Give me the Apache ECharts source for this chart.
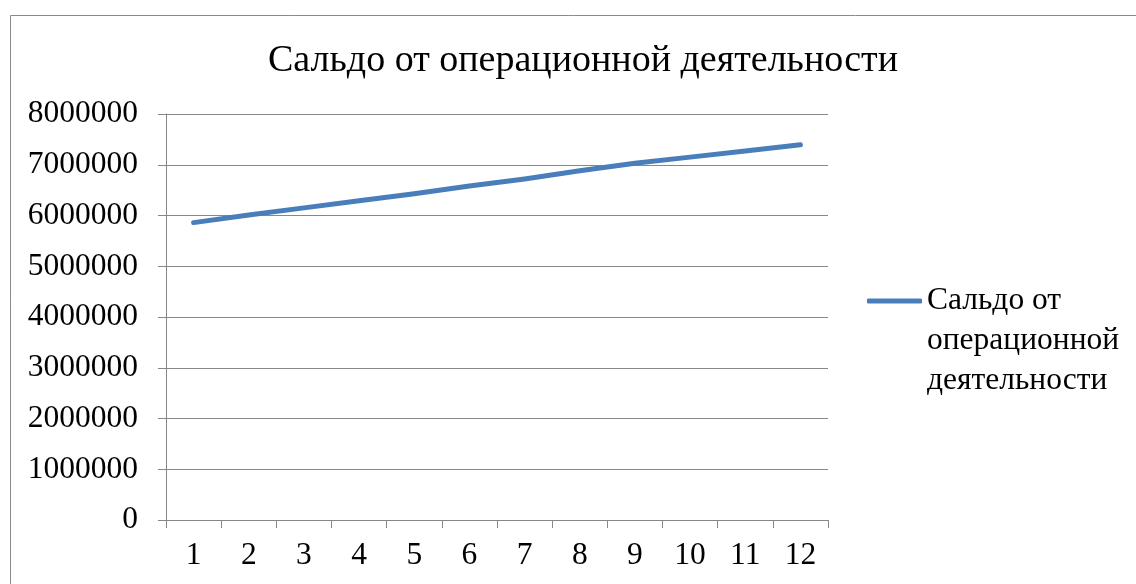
<!DOCTYPE html>
<html>
<head>
<meta charset="utf-8">
<script src="https://cdn.jsdelivr.net/npm/echarts@6/dist/echarts.min.js"></script>
<style>
html,body{margin:0;padding:0;background:#fff;}
#c{width:1136px;height:584px;}
</style>
</head>
<body>
<div id="c"></div>
<script>
var titleText = 'Сальдо от операционной деятельности';
var seriesName = 'Сальдо от операционной деятельности';
var legendLines = ['Сальдо от', 'операционной', 'деятельности'];
var categories = ['1','2','3','4','5','6','7','8','9','10','11','12'];
var values = [5860000, 6010000, 6150000, 6290000, 6430000, 6580000, 6720000, 6880000, 7030000, 7150000, 7270000, 7395000];
var yMin = 0, yMax = 8000000, yStep = 1000000;

var font = '"Liberation Serif", "Times New Roman", serif';
var gridColor = '#878787';
var labelSize = 31.5;
var chart = echarts.init(document.getElementById('c'));
chart.setOption({
  animation: false,
  backgroundColor: '#fff',
  graphic: [{
    type: 'rect',
    shape: {x: 10.5, y: 15.5, width: 1300, height: 800},
    style: {fill: 'none', stroke: '#8a8a8a', lineWidth: 1},
    silent: true,
    z: -1
  }],
  title: {
    text: titleText,
    left: 578,
    textAlign: 'center',
    top: 37,
    textStyle: {fontFamily: font, fontSize: 38, fontWeight: 'normal', color: '#000'}
  },
  legend: {
    left: 867,
    top: 201,
    padding: 0,
    icon: 'roundRect',
    itemWidth: 55,
    itemHeight: 5,
    formatter: function(){
      return '{b| }\n' + legendLines.map(function(s){ return '{a|' + s + '}'; }).join('\n');
    },
    textStyle: {
      fontFamily: font, fontSize: labelSize, color: '#000',
      rich: {
        a: {fontFamily: font, fontSize: labelSize, color: '#000', lineHeight: 40},
        b: {fontSize: 10, lineHeight: 80, height: 80}
      }
    },
    data: [seriesName]
  },
  grid: {left: 166, right: 308, top: 114, bottom: 64, containLabel: false},
  xAxis: {
    type: 'category',
    data: categories,
    boundaryGap: true,
    axisLine: {lineStyle: {color: gridColor, width: 1}},
    axisTick: {show: true, length: 8, lineStyle: {color: gridColor}},
    axisLabel: {fontFamily: font, fontSize: labelSize, color: '#000', margin: 20}
  },
  yAxis: {
    type: 'value',
    min: yMin, max: yMax, interval: yStep,
    axisLine: {show: true, lineStyle: {color: gridColor, width: 1}},
    axisTick: {show: true, length: 8, lineStyle: {color: gridColor}},
    splitLine: {lineStyle: {color: gridColor, width: 1}},
    axisLabel: {fontFamily: font, fontSize: labelSize, color: '#000', margin: 28,
      formatter: function(v){ return String(v); }}
  },
  series: [{
    name: seriesName,
    type: 'line',
    data: values,
    symbol: 'none',
    lineStyle: {color: '#4a7ebb', width: 5, cap: 'round', join: 'round'},
    itemStyle: {color: '#4a7ebb'}
  }]
});
</script>
</body>
</html>
